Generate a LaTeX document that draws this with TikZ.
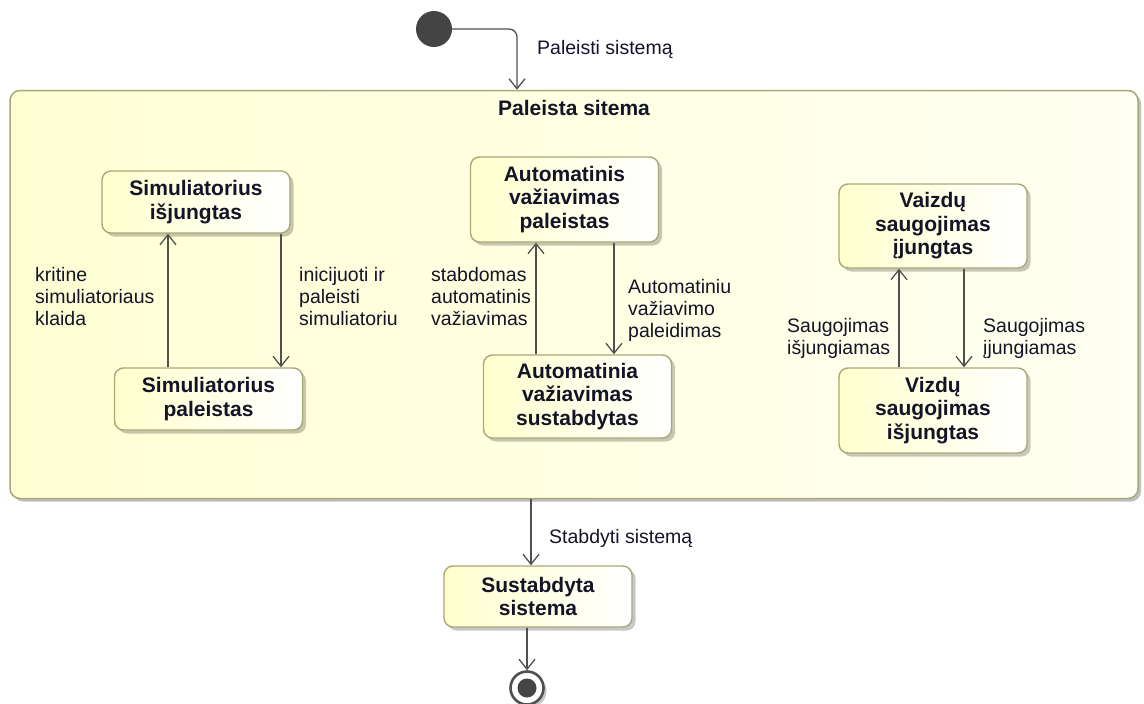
\documentclass[tikz,border=0pt]{standalone}
\usepackage{fontspec}
\setmainfont{Liberation Sans}
\usetikzlibrary{arrows.meta,positioning,calc,shadows}
\definecolor{stateline}{RGB}{168,168,120}
\definecolor{arrowgray}{RGB}{80,80,80}
\definecolor{dotgray}{RGB}{68,68,68}
\definecolor{textdark}{RGB}{20,20,40}
\definecolor{stateyellow}{RGB}{255,255,205}
\definecolor{contleft}{RGB}{255,255,212}
\definecolor{contright}{RGB}{255,255,242}
\newcommand{\labelfont}{\fontsize{19.5}{22}\selectfont}
\newcommand{\statefont}{\fontsize{21}{23.5}\selectfont\bfseries}

\begin{document}
\begin{tikzpicture}[x=1pt, y=-1pt, >=Latex,
  stateshape/.style={draw=stateline, line width=1.4pt, rounded corners=9pt,
    left color=stateyellow, right color=white, text=textdark, font=\statefont,
    align=center, inner sep=2pt, minimum width=188pt,
    drop shadow={shadow xshift=3.5pt, shadow yshift=-3.5pt, fill=black, opacity=0.22}},
  container/.style={draw=stateline, line width=1.5pt, rounded corners=10pt,
    left color=contleft, right color=contright,
    drop shadow={shadow xshift=3pt, shadow yshift=-3pt, fill=black, opacity=0.25}},
  trans/.style={draw=arrowgray, line width=1.3pt, -{Straight Barb[length=10pt,width=16pt]}},
  translabel/.style={anchor=west, align=left, font=\labelfont, text=textdark, inner sep=0pt}]
\useasboundingbox (0,0) rectangle (1144,704);

% initial pseudo state and outer composite state
\node[circle, fill=dotgray, minimum size=36pt, inner sep=0pt] (start) at (434,29) {};
\node[container, minimum width=1128pt, minimum height=408pt] (sys) at (574,294.5) {};
\node[font=\statefont, text=textdark] (systitle) at (574,108) {Paleista sitema};
\draw[trans, rounded corners=8pt] (start.east) -| (sys.north -| 517,0);
\node[translabel] (lstart) at (537,49) {Paleisti sistemą};

% inner states
\node[stateshape, minimum height=62pt] (simoff) at (196,202) {Simuliatorius\\išjungtas};
\node[stateshape, minimum height=62pt] (simon) at (208.5,399) {Simuliatorius\\paleistas};
\node[stateshape, minimum height=85pt] (autoon) at (564.5,199.5) {Automatinis\\važiavimas\\paleistas};
\node[stateshape, minimum height=83pt] (autooff) at (577.5,396.5) {Automatinia\\važiavimas\\sustabdytas};
\node[stateshape, minimum height=84pt] (saveon) at (933,226) {Vaizdų\\saugojimas\\įjungtas};
\node[stateshape, minimum height=85pt] (saveoff) at (933,410.5) {Vizdų\\saugojimas\\išjungtas};

% transitions between inner states
\foreach \hi/\lo/\up/\dn in {simoff/simon/168/281, autoon/autooff/536/614, saveon/saveoff/899/964} {
  \draw[trans] (\lo.north -| \up,0) -- (\hi.south -| \up,0);
  \draw[trans] (\hi.south -| \dn,0) -- (\lo.north -| \dn,0);
}
\node[translabel] (lsimfail) at (35,297) {kritine\\simuliatoriaus\\klaida};
\node[translabel] (lsimstart) at (299,297) {inicijuoti ir\\paleisti\\simuliatoriu};
\node[translabel] (lautostop) at (431,297) {stabdomas\\automatinis\\važiavimas};
\node[translabel] (lautostart) at (628,310) {Automatiniu\\važiavimo\\paleidimas};
\node[translabel] (lsaveoff) at (787,338) {Saugojimas\\išjungiamas};
\node[translabel] (lsaveon) at (983,338) {Saugojimas\\įjungiamas};

% stopped system and final state
\node[stateshape, minimum height=61pt] (stop) at (538,596.5) {Sustabdyta\\sistema};
\draw[trans] (sys.south -| 531,0) -- (stop.north -| 531,0);
\node[translabel] (lstop) at (549,538) {Stabdyti sistemą};
\node[circle, draw=arrowgray, line width=2.6pt, fill=white, minimum size=33pt, inner sep=0pt,
  drop shadow={shadow xshift=3pt, shadow yshift=-3pt, fill=black, opacity=0.22}] (end) at (527,688) {};
\node[circle, fill=dotgray, minimum size=19pt, inner sep=0pt] (enddot) at (end) {};
\draw[trans] (stop.south -| end.north) -- (end.north);
\end{tikzpicture}
\end{document}
